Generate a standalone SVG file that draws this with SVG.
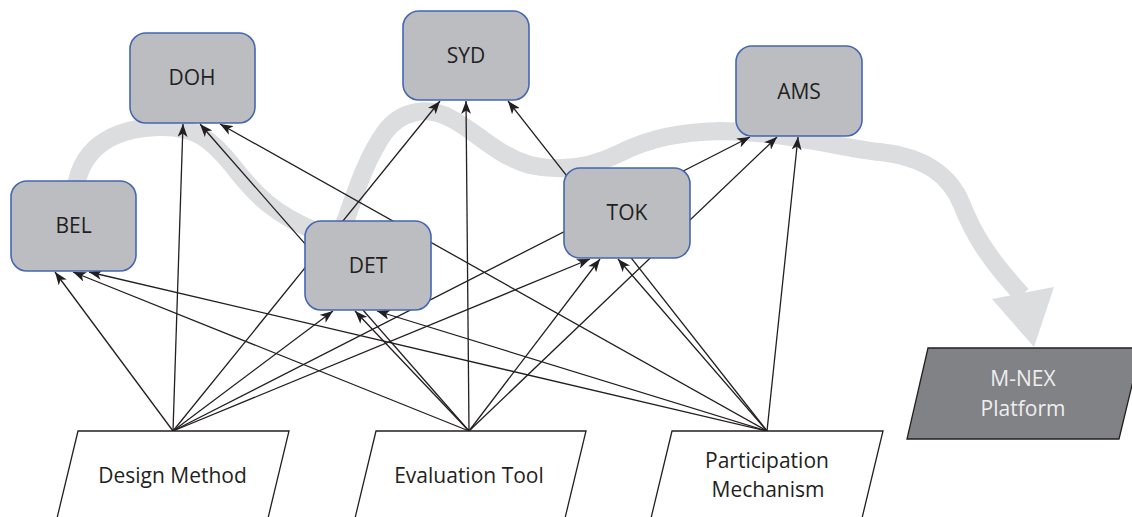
<svg xmlns="http://www.w3.org/2000/svg" width="1132" height="517" viewBox="0 0 1132 517">
<style>
.flow{fill:none;stroke:#dcdddf;stroke-width:18;stroke-linejoin:round;stroke-linecap:butt}
.head{fill:#dcdddf}
.box{fill:#bcbdc0;stroke:#4466b3;stroke-width:1.6}
.lbl{font-family:"Open Sans","Noto Sans",sans-serif;font-size:21px;fill:#231f20;text-anchor:middle}
.src{fill:#ffffff;stroke:#231f20;stroke-width:1.3}
.plat{fill:#818285;stroke:#231f20;stroke-width:1.3}
.wlbl{font-family:"Open Sans","Noto Sans",sans-serif;font-size:21px;fill:#eeeeef;text-anchor:middle}
.cn line{stroke:#231f20;stroke-width:1.3;marker-end:url(#arr)}
</style>
<defs>
<marker id="arr" markerUnits="userSpaceOnUse" markerWidth="14" markerHeight="10" viewBox="0 0 14 10" refX="13" refY="5" orient="auto">
<path d="M0,0 L13,5 L0,10 L3.5,5 z" fill="#231f20"/>
</marker>
</defs>
<g id="flow">
<path class="flow" d="M 75 195 C 78 150, 110 128, 160 127 C 195 126, 212 140, 232 165 C 255 195, 275 215, 318 232 L 340 240 L 345 222 C 355 195, 365 160, 385 132 C 400 112, 425 105, 450 118 C 475 130, 495 155, 530 165 C 560 172, 590 168, 620 153 C 650 138, 680 132, 720 131 C 790 132, 840 148, 880 152 C 925 157, 950 175, 962 205 C 972 230, 985 255, 1022 295"/>
<polygon class="head" points="992,299 1054,287 1034,347"/>
</g>
<g id="connectors" class="cn">
<line x1="173" y1="431" x2="55" y2="272"/>
<line x1="469" y1="431" x2="73" y2="272"/>
<line x1="767" y1="431" x2="89" y2="272"/>
<line x1="173" y1="431" x2="183" y2="124"/>
<line x1="469" y1="431" x2="200" y2="124"/>
<line x1="767" y1="431" x2="220" y2="124"/>
<line x1="173" y1="431" x2="333" y2="311"/>
<line x1="469" y1="431" x2="355" y2="311"/>
<line x1="767" y1="431" x2="377" y2="311"/>
<line x1="173" y1="431" x2="440" y2="101"/>
<line x1="469" y1="431" x2="466" y2="101"/>
<line x1="767" y1="431" x2="508" y2="101"/>
<line x1="173" y1="431" x2="590" y2="259"/>
<line x1="469" y1="431" x2="600" y2="259"/>
<line x1="767" y1="431" x2="618" y2="259"/>
<line x1="173" y1="431" x2="750" y2="137"/>
<line x1="469" y1="431" x2="777" y2="137"/>
<line x1="767" y1="431" x2="798" y2="137"/>
</g>
<g id="DOH"><rect class="box" x="130" y="33" width="125" height="90" rx="16"/><text class="lbl" x="192" y="85">DOH</text></g>
<g id="BEL"><rect class="box" x="11" y="181" width="125" height="90" rx="16"/><text class="lbl" x="73.5" y="233">BEL</text></g>
<g id="DET"><rect class="box" x="305" y="221" width="126" height="89" rx="16"/><text class="lbl" x="368" y="273">DET</text></g>
<g id="SYD"><rect class="box" x="403" y="11" width="126" height="89" rx="16"/><text class="lbl" x="466" y="63">SYD</text></g>
<g id="TOK"><rect class="box" x="564" y="168" width="126" height="90" rx="16"/><text class="lbl" x="627" y="220">TOK</text></g>
<g id="AMS"><rect class="box" x="736" y="46" width="126" height="90" rx="16"/><text class="lbl" x="799" y="99">AMS</text></g>
<g id="design-method"><polygon class="src" points="78,431 289,431 267.8,519 56.8,519"/><text class="lbl" x="172.5" y="483">Design Method</text></g>
<g id="evaluation-tool"><polygon class="src" points="376,431 586,431 564.8,519 354.8,519"/><text class="lbl" x="469" y="483">Evaluation Tool</text></g>
<g id="participation-mechanism"><polygon class="src" points="672,431 883,431 861.8,519 650.8,519"/><text class="lbl" x="767" y="468">Participation</text><text class="lbl" x="768" y="497">Mechanism</text></g>
<g id="m-nex"><polygon class="plat" points="928,348 1141,348 1119,439 907,439"/><text class="wlbl" x="1023" y="386">M-NEX</text><text class="wlbl" x="1023" y="416">Platform</text></g>
</svg>
